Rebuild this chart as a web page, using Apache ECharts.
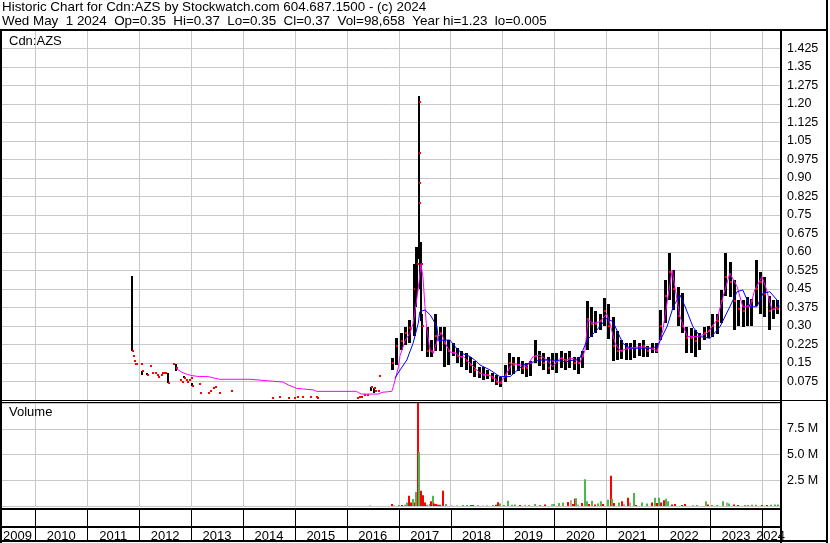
<!DOCTYPE html>
<html>
<head>
<meta charset="utf-8">
<title>Cdn:AZS historic chart</title>
<script src="https://cdn.jsdelivr.net/npm/echarts@6.0.0/dist/echarts.min.js"></script>
<style>
  html, body { margin: 0; padding: 0; background: #fff; }
  #chart { width: 830px; height: 543px; }
</style>
</head>
<body>
<div id="chart"></div>
<script>
  // price bars: date (decimal year for a single day, 'YYYY-MM' for a month), low, high, close
  const priceDates = [
    2011.87, 2011.88, 2011.91, 2011.92, 2011.94, 2012.04, 2012.07, 2012.15, 2012.21, 2012.25,
    2012.32, 2012.34, 2012.36, 2012.42, 2012.45, 2012.47, 2012.50, 2012.57, 2012.65, 2012.72,
    2012.79, 2012.83, 2012.86, 2012.91, 2012.93, 2012.96, 2013.01, 2013.02, 2013.16, 2013.18,
    2013.33, 2013.37, 2013.42, 2013.47, 2013.55, 2013.77, 2014.56, 2014.70, 2014.88, 2014.98,
    2015.05, 2015.14, 2015.29, 2015.41, 2015.43, 2016.21, 2016.23, 2016.28, 2016.34, 2016.39,
    2016.47, 2016.52, 2016.55, 2016.60, 2016.63,
    '2016-11', '2016-12', '2017-01', '2017-02', '2017-03', '2017-04',
    2017.335, 2017.365, 2017.385, 2017.387, 2017.389, 2017.391, 2017.405, 2017.43, 2017.46,
    '2017-07', '2017-08', '2017-09', '2017-10', '2017-11', '2017-12',
    '2018-01', '2018-02', '2018-03', '2018-04', '2018-05', '2018-06',
    '2018-07', '2018-08', '2018-09', '2018-10', '2018-11', '2018-12',
    '2019-01', '2019-02', '2019-03', '2019-04', '2019-05', '2019-06',
    '2019-07', '2019-08', '2019-09', '2019-10', '2019-11', '2019-12',
    '2020-01', '2020-02', '2020-03', '2020-04', '2020-05', '2020-06',
    '2020-07', '2020-08', '2020-09', '2020-10', '2020-11', '2020-12',
    '2021-01', '2021-02', '2021-03', '2021-04', '2021-05', '2021-06',
    '2021-07', '2021-08', '2021-09', '2021-10', '2021-11', '2021-12',
    '2022-01', '2022-02', '2022-03', '2022-04', '2022-05', '2022-06',
    '2022-07', '2022-08', '2022-09', '2022-10', '2022-11', '2022-12',
    '2023-01', '2023-02', '2023-03', '2023-04', '2023-05', '2023-06',
    '2023-07', '2023-08', '2023-09', '2023-10', '2023-11', '2023-12',
    '2024-01', '2024-02', '2024-03', '2024-04'
  ];
  const priceLow = [
    0.20, 0.178, 0.16, 0.146, 0.146, 0.146, 0.101, 0.101, 0.138, 0.111,
    0.111, 0.101, 0.092, 0.101, 0.111, 0.111, 0.111, 0.07, 0.146, 0.118,
    0.081, 0.072, 0.09, 0.081, 0.072, 0.081, 0.09, 0.057, 0.065, 0.03,
    0.03, 0.038, 0.049, 0.054, 0.03, 0.038, 0.01, 0.014, 0.01, 0.01,
    0.014, 0.014, 0.014, 0.014, 0.01, 0.007, 0.011, 0.014, 0.019, 0.022,
    0.036, 0.03, 0.038, 0.038, 0.097,
    0.12, 0.14, 0.20, 0.223, 0.23, 0.257,
    0.378, 0.43, 0.57, 1.0, 0.88, 0.8, 0.45, 0.32, 0.20,
    0.176, 0.176, 0.20, 0.20, 0.135, 0.142,
    0.176, 0.15, 0.135, 0.122, 0.11, 0.095,
    0.09, 0.081, 0.085, 0.07, 0.06, 0.054,
    0.07, 0.10, 0.108, 0.12, 0.108, 0.095,
    0.10, 0.15, 0.14, 0.122, 0.108, 0.12,
    0.11, 0.13, 0.122, 0.13, 0.122, 0.108,
    0.13, 0.20, 0.257, 0.27, 0.284, 0.297,
    0.25, 0.16, 0.162, 0.165, 0.162, 0.162,
    0.17, 0.176, 0.176, 0.176, 0.19, 0.19,
    0.243, 0.311, 0.405, 0.365, 0.30, 0.27,
    0.19, 0.19, 0.176, 0.20, 0.243, 0.25,
    0.257, 0.27, 0.311, 0.42, 0.42, 0.284,
    0.30, 0.297, 0.30, 0.30, 0.38, 0.35,
    0.338, 0.284, 0.33, 0.35
  ];
  const priceHigh = [
    0.503, 0.178, 0.16, 0.146, 0.146, 0.146, 0.118, 0.111, 0.138, 0.111,
    0.111, 0.101, 0.092, 0.101, 0.111, 0.111, 0.111, 0.111, 0.146, 0.146,
    0.081, 0.072, 0.097, 0.081, 0.072, 0.081, 0.09, 0.07, 0.065, 0.03,
    0.03, 0.038, 0.049, 0.054, 0.03, 0.038, 0.01, 0.014, 0.01, 0.01,
    0.014, 0.014, 0.014, 0.014, 0.01, 0.007, 0.011, 0.014, 0.019, 0.022,
    0.054, 0.05, 0.038, 0.038, 0.097,
    0.17, 0.25, 0.27, 0.297, 0.324, 0.55,
    0.62, 0.62, 1.232, 1.0, 0.88, 0.8, 0.64, 0.64, 0.35,
    0.297, 0.243, 0.35, 0.297, 0.297, 0.243,
    0.23, 0.21, 0.20, 0.19, 0.176, 0.16,
    0.135, 0.135, 0.12, 0.108, 0.10, 0.095,
    0.14, 0.19, 0.176, 0.176, 0.16, 0.15,
    0.16, 0.243, 0.20, 0.19, 0.176, 0.19,
    0.19, 0.20, 0.19, 0.20, 0.176, 0.176,
    0.20, 0.40, 0.378, 0.36, 0.35, 0.412,
    0.39, 0.338, 0.28, 0.243, 0.23, 0.23,
    0.243, 0.23, 0.243, 0.22, 0.23, 0.23,
    0.365, 0.486, 0.595, 0.527, 0.46, 0.433,
    0.297, 0.29, 0.284, 0.27, 0.297, 0.30,
    0.35, 0.35, 0.446, 0.595, 0.56, 0.486,
    0.405, 0.405, 0.419, 0.41, 0.567, 0.52,
    0.50, 0.42, 0.405, 0.405
  ];
  const priceClose = [
    0.20, 0.178, 0.16, 0.146, 0.146, 0.146, 0.118, 0.101, 0.138, 0.111,
    0.111, 0.101, 0.092, 0.101, 0.111, 0.111, 0.111, 0.07, 0.146, 0.13,
    0.081, 0.072, 0.09, 0.081, 0.072, 0.081, 0.09, 0.057, 0.065, 0.03,
    0.03, 0.038, 0.049, 0.054, 0.03, 0.038, 0.01, 0.014, 0.01, 0.01,
    0.014, 0.014, 0.014, 0.014, 0.01, 0.007, 0.011, 0.014, 0.019, 0.022,
    0.054, 0.05, 0.038, 0.038, 0.097,
    0.15, 0.22, 0.24, 0.27, 0.29, 0.45,
    0.50, 0.55, 1.21, 1.0, 0.88, 0.8, 0.60, 0.55, 0.30,
    0.20, 0.20, 0.26, 0.27, 0.23, 0.20,
    0.19, 0.18, 0.175, 0.16, 0.14, 0.12,
    0.11, 0.10, 0.10, 0.09, 0.075, 0.07,
    0.10, 0.15, 0.14, 0.14, 0.13, 0.13,
    0.15, 0.18, 0.17, 0.15, 0.13, 0.16,
    0.16, 0.17, 0.16, 0.17, 0.15, 0.15,
    0.18, 0.33, 0.31, 0.31, 0.32, 0.36,
    0.30, 0.22, 0.20, 0.20, 0.21, 0.21,
    0.21, 0.21, 0.22, 0.20, 0.21, 0.20,
    0.30, 0.42, 0.52, 0.45, 0.34, 0.30,
    0.25, 0.25, 0.24, 0.26, 0.27, 0.28,
    0.30, 0.32, 0.40, 0.50, 0.48, 0.40,
    0.37, 0.36, 0.38, 0.40, 0.45, 0.48,
    0.43, 0.36, 0.37, 0.37
  ];

  // short moving average (magenta)
  const fastMaDates = [
    2012.72, 2012.83, 2012.93, 2013.02, 2013.16, 2013.33, 2013.47, 2013.55, 2014.14, 2014.17,
    2014.59, 2014.77, 2014.88, 2015.04, 2015.36, 2015.42, 2016.19, 2016.23, 2016.29, 2016.61,
    2016.68, 2016.87, 2016.90, 2016.95, 2017.00, 2017.03, 2017.13, 2017.22, 2017.28, 2017.35,
    2017.40, 2017.43, 2017.47, 2017.51, 2017.54, 2017.61, 2017.67, 2017.77, 2017.83, 2017.90,
    2017.99, 2018.12, 2018.18, 2018.25, 2018.38, 2018.51, 2018.57, 2018.82, 2018.95, 2019.05,
    2019.19, 2019.34, 2019.47, 2019.59, 2019.72, 2019.86, 2019.97, 2020.11, 2020.24, 2020.36,
    2020.49, 2020.59, 2020.65, 2020.75, 2020.88, 2021.01, 2021.07, 2021.17, 2021.27, 2021.46,
    2021.65, 2021.84, 2021.98, 2022.09, 2022.19, 2022.27, 2022.32, 2022.42, 2022.56, 2022.75,
    2022.94, 2023.13, 2023.25, 2023.38, 2023.52, 2023.63, 2023.77, 2023.86, 2024.00, 2024.09,
    2024.19, 2024.31
  ];
  const fastMaValues = [
    0.128, 0.112, 0.104, 0.099, 0.095, 0.095, 0.088, 0.084, 0.084, 0.080,
    0.076, 0.073, 0.061, 0.047, 0.041, 0.035, 0.035, 0.030, 0.024, 0.024,
    0.031, 0.035, 0.054, 0.094, 0.135, 0.18, 0.243, 0.27, 0.31, 0.405,
    0.486, 0.551, 0.50, 0.378, 0.297, 0.20, 0.189, 0.257, 0.27, 0.23,
    0.195, 0.189, 0.176, 0.176, 0.149, 0.122, 0.108, 0.095, 0.068, 0.095,
    0.149, 0.142, 0.135, 0.176, 0.182, 0.162, 0.135, 0.169, 0.162, 0.169,
    0.149, 0.20, 0.324, 0.311, 0.317, 0.35, 0.311, 0.23, 0.20, 0.21,
    0.216, 0.21, 0.20, 0.284, 0.419, 0.527, 0.46, 0.338, 0.257, 0.257,
    0.27, 0.324, 0.419, 0.514, 0.46, 0.378, 0.378, 0.446, 0.50, 0.446,
    0.365, 0.378
  ];

  // long moving average (blue)
  const slowMaDates = [
    2016.93, 2017.03, 2017.16, 2017.28, 2017.38, 2017.41, 2017.51, 2017.61, 2017.67, 2017.74,
    2017.77, 2017.87, 2017.99, 2018.09, 2018.22, 2018.38, 2018.51, 2018.57, 2018.76, 2018.95,
    2019.15, 2019.40, 2019.72, 2019.97, 2020.24, 2020.49, 2020.63, 2020.82, 2021.01, 2021.13,
    2021.32, 2021.46, 2021.65, 2021.84, 2021.98, 2022.17, 2022.29, 2022.42, 2022.52, 2022.67,
    2022.81, 2023.00, 2023.19, 2023.38, 2023.52, 2023.63, 2023.77, 2023.90, 2024.02, 2024.15,
    2024.29, 2024.33
  ];
  const slowMaValues = [
    0.088, 0.122, 0.162, 0.23, 0.311, 0.358, 0.365, 0.345, 0.324, 0.297,
    0.24, 0.243, 0.243, 0.216, 0.189, 0.176, 0.155, 0.142, 0.122, 0.095,
    0.095, 0.142, 0.162, 0.162, 0.155, 0.169, 0.243, 0.284, 0.331, 0.317,
    0.23, 0.21, 0.21, 0.21, 0.216, 0.297, 0.378, 0.426, 0.378, 0.297,
    0.257, 0.25, 0.297, 0.378, 0.439, 0.446, 0.378, 0.378, 0.433, 0.439,
    0.405, 0.378
  ];

  // volume (millions); direction 1 = up (green), -1 = down (red), 0 = unchanged (grey)
  const volDates = [
    2016.451, 2016.881, 2016.913, 2017.009, 2017.067, 2017.125, 2017.163, 2017.208, 2017.235, 2017.285,
    2017.312, 2017.337, 2017.381, 2017.404, 2017.427, 2017.450, 2017.477, 2017.510, 2017.554, 2017.606,
    2017.631, 2017.658, 2017.683, 2017.722, 2017.766, 2017.805, 2017.863, 2017.915, 2018.024, 2018.121,
    2018.248, 2018.325, 2018.390, 2018.440, 2018.536, 2018.633, 2018.698, 2018.814, 2018.877, 2018.922,
    2018.954, 2019.031, 2019.114, 2019.180, 2019.243, 2019.340, 2019.436, 2019.519, 2019.629, 2019.725,
    2019.821, 2019.950, 2019.994, 2020.096, 2020.173, 2020.258, 2020.316, 2020.354, 2020.400, 2020.418,
    2020.462, 2020.539, 2020.591, 2020.624, 2020.668, 2020.732, 2020.784, 2020.847, 2020.899, 2020.944,
    2021.040, 2021.086, 2021.111, 2021.156, 2021.246, 2021.298, 2021.348, 2021.425, 2021.458, 2021.529,
    2021.573, 2021.683, 2021.779, 2021.875, 2021.939, 2021.978, 2022.016, 2022.055, 2022.107, 2022.145,
    2022.184, 2022.261, 2022.324, 2022.453, 2022.517, 2022.677, 2022.742, 2022.915, 2022.965, 2023.031,
    2023.127, 2023.254, 2023.320, 2023.364, 2023.466, 2023.543, 2023.672, 2023.736, 2023.813, 2023.878,
    2023.994, 2024.090, 2024.173, 2024.250, 2024.313
  ];
  const volValues = [
    0.05, 0.19, 0.05, 0.10, 0.10, 0.12, 0.35, 1.0, 0.35, 0.68,
    0.35, 1.35, 10.0, 5.25, 1.48, 0.68, 1.05, 0.35, 0.12, 0.19,
    0.45, 1.0, 0.25, 0.19, 0.12, 0.12, 1.48, 0.19, 0.06, 0.06,
    0.10, 0.10, 0.10, 0.10, 0.05, 0.05, 0.06, 0.10, 0.12, 0.36,
    0.25, 0.10, 0.52, 0.12, 0.15, 0.10, 0.12, 0.10, 0.19, 0.08,
    0.15, 0.20, 0.20, 0.30, 0.35, 0.40, 0.55, 0.20, 0.70, 0.75,
    0.15, 0.30, 2.6, 0.45, 0.20, 0.50, 0.15, 0.25, 0.45, 0.20,
    0.60, 2.94, 0.70, 0.30, 0.35, 0.45, 0.20, 0.80, 0.35, 1.26,
    0.10, 0.35, 0.25, 0.35, 0.80, 0.30, 0.80, 0.35, 0.55, 0.70,
    0.45, 0.15, 0.20, 0.10, 0.20, 0.10, 0.10, 0.45, 0.15, 0.10,
    0.10, 0.45, 0.35, 0.25, 0.15, 0.10, 0.10, 0.10, 0.12, 0.12,
    0.10, 0.10, 0.12, 0.15, 0.15
  ];
  const volDirs = [
    1, -1, 1, 1, -1, 1, 1, -1, -1, 1,
    -1, 1, -1, 1, -1, -1, -1, -1, 1, 1,
    -1, 1, -1, -1, -1, -1, -1, 1, 0, 1,
    1, 1, -1, -1, -1, 0, 1, 1, -1, -1,
    1, 1, 1, 1, 1, -1, 0, 1, 1, -1,
    -1, 0, 1, 1, 1, -1, 0, -1, -1, 1,
    0, -1, 1, 1, -1, 1, -1, 1, 1, -1,
    1, -1, 1, -1, 1, -1, 0, -1, 0, 1,
    -1, 1, 1, -1, 1, -1, 1, -1, -1, 1,
    1, -1, -1, -1, -1, 0, 1, 1, -1, 1,
    1, 1, 0, 1, -1, -1, 1, 1, 1, 1,
    -1, -1, 1, 1, 1
  ];

  const priceLabels = ['', '0.075', '0.15', '0.225', '0.30', '0.375', '0.45', '0.525', '0.60', '0.675',
    '0.75', '0.825', '0.90', '0.975', '1.05', '1.125', '1.20', '1.275', '1.35', '1.425', ''];
  const volLabels = ['', '2.5 M', '5.0 M', '7.5 M', ''];
  const years = [2009, 2010, 2011, 2012, 2013, 2014, 2015, 2016, 2017, 2018, 2019, 2020, 2021, 2022, 2023, 2024];

  const titleLine1 = 'Historic Chart for Cdn:AZS by Stockwatch.com 604.687.1500 - (c) 2024';
  const titleLine2 = 'Wed May  1 2024  Op=0.35  Hi=0.37  Lo=0.35  Cl=0.37  Vol=98,658  Year hi=1.23  lo=0.005';

  // visible window: mid May 2009 .. 1 May 2024
  const X_MIN = 2009.3645, X_MAX = 2024.3655;
  const FONT = '"Liberation Sans", Arial, sans-serif';
  const GRID_GREY = '#c8c8c8';

  function toYear(d) {
    if (typeof d === 'number') return d;
    const p = d.split('-').map(Number);
    return p[0] + (p[1] - 0.5) / 12;
  }

  const priceData = priceDates.map((d, i) => [toYear(d), priceLow[i], priceHigh[i], priceClose[i]]);
  const fastMa = fastMaDates.map((d, i) => [d, fastMaValues[i]]);
  const slowMa = slowMaDates.map((d, i) => [d, slowMaValues[i]]);
  const volData = volDates.map((d, i) => [d, volValues[i], volDirs[i]]);
  const yearStarts = years.slice(1).map(y => [y, 0]);

  // the 2009 and 2024 columns are cut off, so their labels sit in the visible part
  const yearLabelPos = years.map((y, i) => i === 0 ? y + 0.655 : (i === years.length - 1 ? y + 0.165 : y + 0.5));

  const volColors = { '1': '#4cb84c', '-1': '#ff0000', '0': '#a8a8a8' };

  function renderPrice(params, api) {
    const x = api.value(0);
    const top = api.coord([x, api.value(2)]);
    const bot = api.coord([x, api.value(1)]);
    const cls = api.coord([x, api.value(3)]);
    const px = Math.round(top[0]);
    // monthly ranges get a wider bar than single sessions
    const monthly = typeof priceDates[params.dataIndex] === 'string';
    const w = monthly ? 3 : 2;
    const children = [];
    if (api.value(2) > api.value(1)) {
      children.push({
        type: 'rect',
        shape: { x: px - 1, y: Math.round(top[1]), width: w, height: Math.max(Math.round(bot[1] - top[1]), 1) },
        style: { fill: '#000' }
      });
    }
    children.push({
      type: 'rect',
      shape: { x: px, y: Math.round(cls[1]) - 1, width: 2, height: 2 },
      style: { fill: '#ff0000' }
    });
    return { type: 'group', children: children };
  }

  function renderVolume(params, api) {
    const x = api.value(0);
    const top = api.coord([x, api.value(1)]);
    const base = api.coord([x, 0]);
    return {
      type: 'rect',
      shape: { x: Math.round(top[0]) - 1, y: top[1], width: 2, height: base[1] - top[1] },
      style: { fill: volColors[String(api.value(2))] }
    };
  }

  // vertical line at the start of every year, full height of the grid
  function yearLines(color) {
    return function (params, api) {
      const cs = params.coordSys;
      const x = Math.round(api.coord([api.value(0), 0])[0]) + 0.5;
      return {
        type: 'line',
        shape: { x1: x, y1: cs.y, x2: x, y2: cs.y + cs.height },
        style: { stroke: color, lineWidth: 1 }
      };
    };
  }

  function rule(x, y, w, h) {
    return { type: 'rect', shape: { x: x, y: y, width: w, height: h }, style: { fill: '#000' }, z: 100, silent: true };
  }

  const txt = { fontFamily: FONT, fontSize: 13, fontWeight: 'normal', color: '#000' };

  function xAxisFor(gridIndex) {
    return {
      type: 'value', gridIndex: gridIndex, min: X_MIN, max: X_MAX,
      axisLine: { show: false }, axisTick: { show: false }, axisLabel: { show: false },
      splitLine: { show: false }
    };
  }

  const labelAxis = xAxisFor(2);
  labelAxis.offset = -14;
  labelAxis.axisLabel = {
    show: true, customValues: yearLabelPos, margin: 3,
    formatter: v => String(years[Math.floor(v) - years[0]]),
    fontFamily: FONT, fontSize: 13, color: '#000'
  };

  const option = {
    backgroundColor: '#fff',
    animation: false,
    title: [
      { text: titleLine1 + '\n' + titleLine2, left: 2, top: 0, padding: 0,
        textStyle: Object.assign({}, txt, { fontSize: 13.4, lineHeight: 14 }) },
      { text: 'Cdn:AZS', left: 9, top: 35, padding: 0, textStyle: txt },
      { text: 'Volume', left: 9, top: 406, padding: 0, textStyle: txt }
    ],
    grid: [
      { left: 2, right: 49, top: 30, height: 370 },
      { left: 2, right: 49, top: 403, height: 103 },
      { left: 2, right: 49, top: 510, height: 31 }
    ],
    xAxis: [xAxisFor(0), xAxisFor(1), labelAxis],
    yAxis: [
      {
        type: 'value', gridIndex: 0, position: 'right', min: 0, max: 1.5, interval: 0.075,
        axisLine: { show: false }, axisTick: { show: false },
        splitLine: { lineStyle: { color: GRID_GREY, width: 1 } },
        axisLabel: {
          margin: 6, fontFamily: FONT, fontSize: 12.5, color: '#000',
          formatter: v => priceLabels[Math.round(v / 0.075)]
        }
      },
      {
        type: 'value', gridIndex: 1, position: 'right', min: 0, max: 10, interval: 2.5,
        axisLine: { show: false }, axisTick: { show: false },
        splitLine: { lineStyle: { color: GRID_GREY, width: 1 } },
        axisLabel: {
          margin: 6, fontFamily: FONT, fontSize: 12.5, color: '#000',
          formatter: v => volLabels[Math.round(v / 2.5)]
        }
      },
      { type: 'value', gridIndex: 2, show: false, min: 0, max: 1 }
    ],
    series: [
      {
        type: 'custom', xAxisIndex: 0, yAxisIndex: 0, silent: true, z: 1,
        renderItem: yearLines(GRID_GREY), encode: { x: 0, y: 1 }, data: yearStarts
      },
      {
        type: 'custom', xAxisIndex: 1, yAxisIndex: 1, silent: true, z: 1,
        renderItem: yearLines(GRID_GREY), encode: { x: 0, y: 1 }, data: yearStarts
      },
      {
        type: 'custom', xAxisIndex: 2, yAxisIndex: 2, silent: true, z: 1,
        renderItem: yearLines('#000'), encode: { x: 0, y: 1 }, data: yearStarts
      },
      {
        type: 'custom', xAxisIndex: 0, yAxisIndex: 0, clip: true, silent: true, z: 2,
        renderItem: renderPrice, encode: { x: 0, y: [1, 2] }, data: priceData
      },
      {
        type: 'line', xAxisIndex: 0, yAxisIndex: 0, data: fastMa, showSymbol: false, silent: true,
        lineStyle: { color: '#ff00ff', width: 1 }, z: 3
      },
      {
        type: 'line', xAxisIndex: 0, yAxisIndex: 0, data: slowMa, showSymbol: false, silent: true,
        lineStyle: { color: '#0000ff', width: 1 }, z: 3
      },
      {
        type: 'custom', xAxisIndex: 1, yAxisIndex: 1, clip: true, silent: true, z: 2,
        renderItem: renderVolume, encode: { x: 0, y: 1 }, data: volData
      }
    ],
    graphic: {
      elements: [
        rule(0, 29, 828, 2),     // under the title
        rule(0, 29, 2, 514),     // left edge
        rule(826, 0, 2, 543),    // right edge
        rule(780, 29, 2, 514),   // axis column
        rule(0, 400, 828, 1),    // price / volume
        rule(0, 402, 781, 1),
        rule(0, 508, 781, 2),    // under the volume
        rule(0, 526, 781, 2),    // above the years
        rule(0, 540, 828, 2)     // bottom edge
      ]
    }
  };

  const chart = echarts.init(document.getElementById('chart'));
  chart.setOption(option);
</script>
</body>
</html>
